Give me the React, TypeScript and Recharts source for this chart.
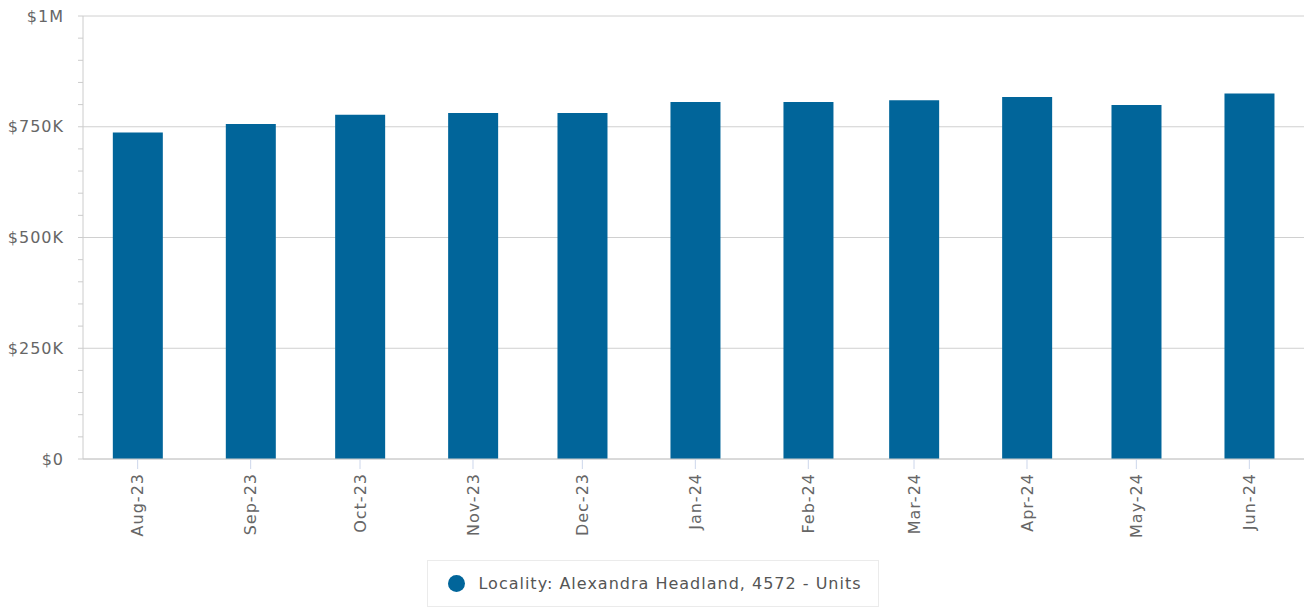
import React from 'react';
import { BarChart, Bar, XAxis, YAxis, CartesianGrid, Legend } from 'recharts';

const monthDates = ['2023-08-01', '2023-09-01', '2023-10-01', '2023-11-01', '2023-12-01', '2024-01-01', '2024-02-01', '2024-03-01', '2024-04-01', '2024-05-01', '2024-06-01'];
const monthLabels = ['Aug-23', 'Sep-23', 'Oct-23', 'Nov-23', 'Dec-23', 'Jan-24', 'Feb-24', 'Mar-24', 'Apr-24', 'May-24', 'Jun-24'];
const medianPrice = [737000, 756000, 777000, 781000, 781000, 806000, 806000, 810000, 817000, 799000, 825000];
const yMajorTicks = [0, 250000, 500000, 750000, 1000000];
const yMinorStep = 50000;
const seriesName = 'Locality: Alexandra Headland, 4572 - Units';

const DAY = 86400000;
const toTs = (s: string) => {
  const [y, m, d] = s.split('-').map(Number);
  return Date.UTC(y, m - 1, d);
};
const timestamps = monthDates.map(toTs);
const labelByTs: Record<number, string> = {};
timestamps.forEach((t, i) => (labelByTs[t] = monthLabels[i]));
const data = timestamps.map((t, i) => ({ date: t, value: medianPrice[i] }));
const xDomain = [timestamps[0] - 15 * DAY, timestamps[timestamps.length - 1] + 15 * DAY];
const yTicks: number[] = [];
for (let v = 0; v <= 1000000; v += yMinorStep) yTicks.push(v);

const fmtY = (v: number) => (v === 0 ? '$0' : v >= 1000000 ? `$${v / 1000000}M` : `$${v / 1000}K`);

const FONT = '"DejaVu Sans", sans-serif';
const COLOR = '#01659a';

const YTick = (props: any) => {
  const { x, y, payload } = props;
  if (!yMajorTicks.includes(payload.value)) return null;
  return (
    <text x={x} y={y} dy="0.35em" textAnchor="end" fill="#666" fontSize={16} letterSpacing={1} fontFamily={FONT}>
      {fmtY(payload.value)}
    </text>
  );
};

const XTick = (props: any) => {
  const { x, y, payload } = props;
  return (
    <text
      x={x}
      y={y}
      dy="0.36em"
      textAnchor="end"
      transform={`rotate(-90, ${x}, ${y})`}
      fill="#666"
      fontSize={16}
      letterSpacing={1}
      fontFamily={FONT}
    >
      {labelByTs[payload.value]}
    </text>
  );
};

const LegendContent = () => (
  <div style={{ textAlign: 'center', height: 47 }}>
    <div
      style={{
        display: 'inline-flex',
        alignItems: 'center',
        height: 45,
        padding: '0 16px 0 20px',
        border: '1px solid #ebebeb',
        fontFamily: FONT,
        fontSize: 16,
        letterSpacing: 1,
        color: '#555',
        boxSizing: 'content-box',
        marginLeft: 2,
      }}
    >
      <span style={{ display: 'inline-block', width: 17, height: 17, borderRadius: '50%', background: COLOR, marginRight: 13 }} />
      <span>{seriesName}</span>
    </div>
  </div>
);

export default function App() {
  return (
    <div style={{ position: 'absolute', left: 0, top: 0, width: 1306, height: 607, background: '#fff' }}>
      <BarChart width={1306} height={607} data={data} margin={{ top: 16, right: 2, bottom: 0, left: 0 }}>
        <CartesianGrid horizontal vertical={false} stroke="#d0d0d0" horizontalValues={yMajorTicks} />
        <XAxis
          dataKey="date"
          type="number"
          scale="linear"
          domain={xDomain}
          ticks={timestamps}
          interval={0}
          height={101}
          tickSize={10}
          tickMargin={4}
          tickLine={{ stroke: '#ccd6eb' }}
          axisLine={{ stroke: '#ccc' }}
          tick={<XTick />}
        />
        <YAxis
          type="number"
          domain={[0, 1000000]}
          ticks={yTicks}
          interval={0}
          width={83}
          tickSize={5}
          tickMargin={14}
          tickLine={{ stroke: '#ccc' }}
          axisLine={{ stroke: '#ccc' }}
          tick={<YTick />}
        />
        <Legend verticalAlign="bottom" align="center" content={<LegendContent />} />
        <Bar dataKey="value" name={seriesName} fill={COLOR} barSize={50} isAnimationActive={false} />
      </BarChart>
    </div>
  );
}
